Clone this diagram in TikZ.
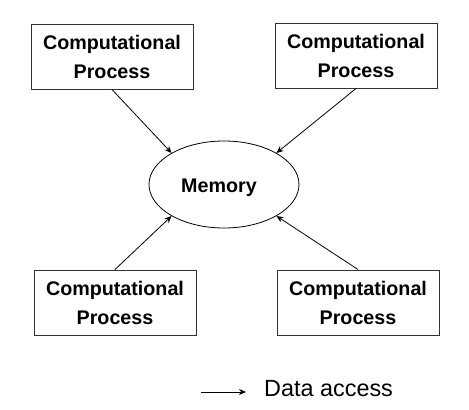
\documentclass[tikz,border=0pt]{standalone}
\usepackage{fontspec}
\setmainfont{Liberation Sans}
\usetikzlibrary{shapes.geometric,arrows.meta}

\tikzset{
    procBox/.style={draw=borderColour, line width=1pt, minimum width=162pt, minimum height=65pt,
        inner sep=0pt, align=center, font=\fontsize{19.7}{29}\selectfont\bfseries},
    memShape/.style={ellipse, draw=black, line width=0.8pt, minimum width=150pt, minimum height=87pt,
        inner sep=0pt, font=\fontsize{19.7}{24}\selectfont\bfseries},
    accessArrow/.style={line width=0.8pt, -{Stealth[length=7pt,width=6pt]}}
}

\begin{document}
\begin{tikzpicture}[x=1pt, y=-1pt]
    \definecolor{borderColour}{HTML}{333333}

    \useasboundingbox (0,0) rectangle (469,410);

    % Memory in the middle
    \node[memShape] (mem) at (224,184.5) {};
    \node[font=\fontsize{19.7}{24}\selectfont\bfseries, inner sep=0pt, anchor=base] (memText) at (219,192) {Memory};

    % Four processes round it
    \node[procBox] (procTL) at (112,56.5) {Computational\\Process};
    \node[procBox] (procTR) at (356,55.5) {Computational\\Process};
    \node[procBox] (procBL) at (115,302.5) {Computational\\Process};
    \node[procBox] (procBR) at (358,302.5) {Computational\\Process};

    % Data access arrows
    \draw[accessArrow] (procTL.south) -- (mem.149);
    \draw[accessArrow] (procTR.south) -- (mem.31);
    \draw[accessArrow] (procBL.north) -- (mem.211);
    \draw[accessArrow] (procBR.north) -- (mem.329);

    % Key
    \coordinate (keyStart) at (201,392);
    \coordinate (keyEnd) at (246,392);
    \draw[accessArrow] (keyStart) -- (keyEnd);
    \node[anchor=base west, inner sep=0pt, font=\fontsize{23.4}{28}\selectfont] (keyText) at (264,396.5) {Data access};

\end{tikzpicture}
\end{document}
